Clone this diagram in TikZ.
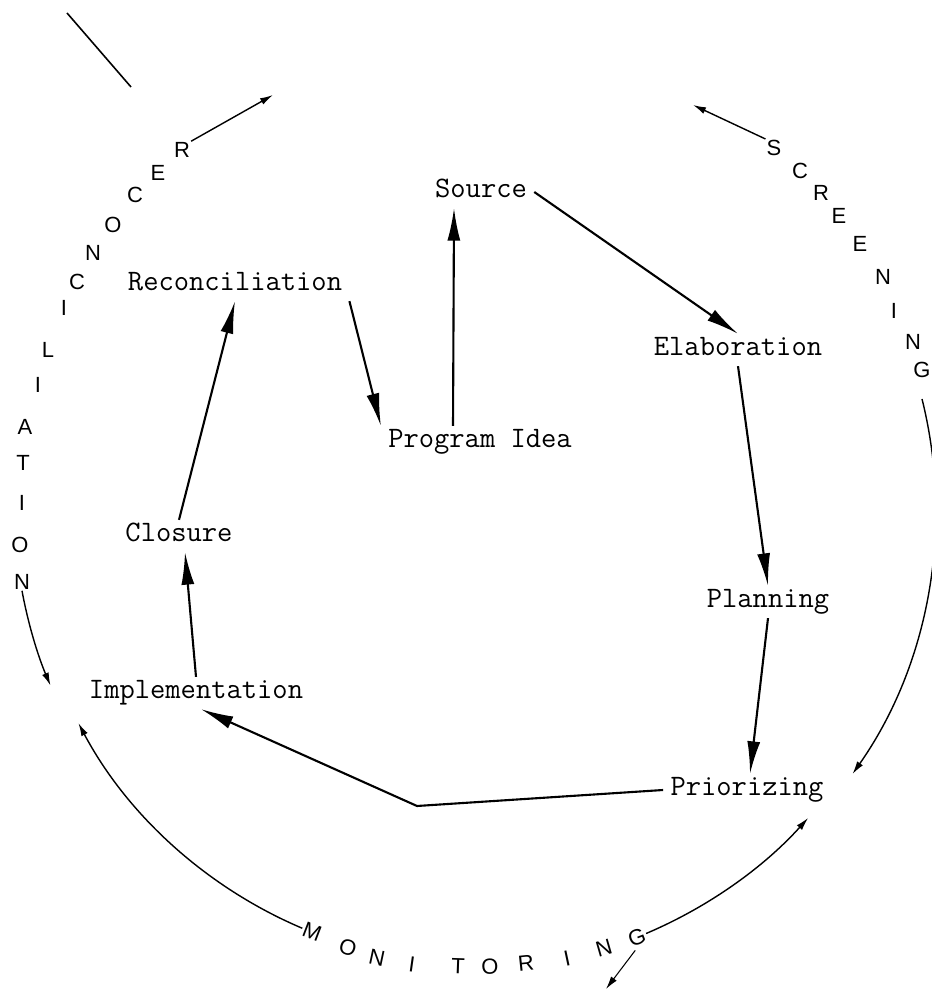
\documentclass[tikz,border=0pt]{standalone}
\usepackage{fontspec}
\newfontfamily\ringfont{Liberation Sans}
\usepackage{tikz}
\usetikzlibrary{arrows.meta,positioning,calc}

\tikzset{
  stage/.style={font=\ttfamily\fontsize{16.9}{19}\selectfont, inner sep=4pt, text height=8pt, text depth=2pt},
  flow/.style={-{Latex[length=6.5mm,width=2.6mm]}, line width=1.2pt, line join=round},
  ring/.style={font=\ringfont\fontsize{12.5}{14}\selectfont, inner sep=0.5pt},
  ringarrow/.style={-{Latex[length=2.6mm,width=1.4mm]}, line width=0.8pt},
}

\begin{document}
\begin{tikzpicture}[x=0.02cm, y=0.02cm]
    \useasboundingbox (0,0) rectangle (931,993);
    % Stages of the program cycle
    \node[stage] (src) at (481,801) {Source};
    \node[stage] (recon) at (235,708) {Reconciliation};
    \node[stage] (elab) at (738,643) {Elaboration};
    \node[stage] (idea) at (480,551) {Program Idea};
    \node[stage] (clos) at (179,457) {Closure};
    \node[stage] (plan) at (768,391) {Planning};
    \node[stage] (impl) at (196,300) {Implementation};
    \node[stage] (prio) at (747,203) {Priorizing};
    \coordinate (bend) at (417,187);
    % Inner cycle
    \draw[flow] ([xshift=-0.54cm]idea.north) -- ([xshift=-0.54cm]src.south);
    \draw[flow] (src.east) -- (elab.north);
    \draw[flow] (elab.south) -- (plan.north);
    \draw[flow] (plan.south) -- ([xshift=0.06cm]prio.north);
    \draw[flow] (prio.west) -- (bend) -- ([xshift=0.1cm]impl.south);
    \draw[flow] (impl.north) -- ([xshift=0.12cm]clos.south);
    \draw[flow] (clos.north) -- (recon.south);
    \draw[flow] (recon.south east) -- (idea.north west);
    % Outer ring: RECONCILIATION
    \foreach \ch/\x/\y [count=\i] in {R/182/843, E/158/820, C/135/798, O/113/768, N/93/740,
        C/77/711, I/64/685, L/48/643, I/38/608, A/25/566, T/23/530, I/22/490, O/20/448, N/22/411}
      \node[ring] (rc\i) at (\x,\y) {\ch};
    % Outer ring: SCREENING
    \foreach \ch/\x/\y [count=\i] in {S/774/845, C/800/822, R/821/800, E/839/777, E/860/749,
        N/883/716, I/894/682, N/913/651, G/922/623}
      \node[ring] (sc\i) at (\x,\y) {\ch};
    % Outer ring: MONITORING
    \foreach \ch/\x/\y/\r [count=\i] in {M/312/61/-21, O/348/45/-16, N/377/35/-12, I/412/29/-8,
        T/458/27/-2, O/490/26/2, R/526/30/6, I/567/35/12, N/604/45/16, G/637/56/21}
      \node[ring, rotate=\r] (mc\i) at (\x,\y) {\ch};
    % Ring arrows
    \coordinate (rtip) at (273,898);
    \coordinate (stip) at (693,888);
    \coordinate (mtip) at (606,4);
    \draw[ringarrow] (rc1.north east) -- (rtip);
    \draw[ringarrow] (sc1.north west) -- (stip);
    \draw[ringarrow] (rc14.south) arc[start angle=190.5, end angle=203, radius=9.1cm];
    \draw[ringarrow] (mc1.west) arc[start angle=247, end angle=208, radius=9.1cm];
    \draw[ringarrow] (mc10.east) arc[start angle=293, end angle=318, radius=9.2cm];
    \draw[ringarrow] ([yshift=-0.4cm]sc9.south) arc[start angle=14, end angle=-35, radius=9.2cm];
    \draw[ringarrow, line width=0.6pt] ([xshift=-0.1cm,yshift=-0.1cm]mc10.south) -- (mtip);
    % Stray stroke at the top left
    \coordinate (tl1) at (67,980);
    \coordinate (tl2) at (131,906);
    \draw[line width=0.9pt] (tl1) -- (tl2);
\end{tikzpicture}
\end{document}
